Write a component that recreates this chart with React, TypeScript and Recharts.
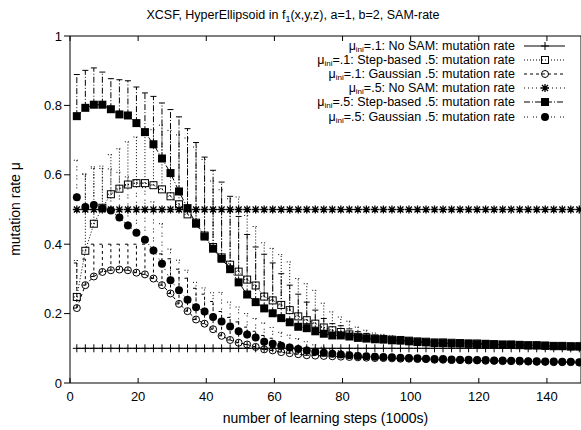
import { LineChart, Line, XAxis, YAxis, ErrorBar, Legend } from 'recharts';

const font = '"Liberation Sans", Arial, Helvetica, sans-serif';

// learning steps (1000s)
const steps = [
  2, 4.5, 7, 9.5, 12, 14.5, 17, 19.5, 22, 24.5, 27, 29.5, 32, 34.5, 37, 39.5, 42, 44.5, 47, 49.5,
  52, 54.5, 57, 59.5, 62, 64.5, 67, 69.5, 72, 74.5, 77, 79.5, 82, 84.5, 87, 89.5, 92, 94.5, 97, 99.5,
  102, 104.5, 107, 109.5, 112, 114.5, 117, 119.5, 122, 124.5, 127, 129.5, 132, 134.5, 137, 139.5, 142, 144.5, 147, 149.5,
];

// mu_ini = .1
const noSam1 = [
  0.1, 0.1, 0.1, 0.1, 0.1, 0.1, 0.1, 0.1, 0.1, 0.1, 0.1, 0.1, 0.1, 0.1, 0.1, 0.1, 0.1, 0.1, 0.1, 0.1,
  0.1, 0.1, 0.1, 0.1, 0.1, 0.1, 0.1, 0.1, 0.1, 0.1, 0.1, 0.1, 0.1, 0.1, 0.1, 0.1, 0.1, 0.1, 0.1, 0.1,
  0.1, 0.1, 0.1, 0.1, 0.1, 0.1, 0.1, 0.1, 0.1, 0.1, 0.1, 0.1, 0.1, 0.1, 0.1, 0.1, 0.1, 0.1, 0.1, 0.1,
];
const step1 = [
  0.248, 0.381, 0.459, 0.505, 0.544, 0.56, 0.572, 0.576, 0.576, 0.57, 0.558, 0.538, 0.515, 0.486, 0.462, 0.425, 0.392, 0.362, 0.341, 0.321,
  0.298, 0.281, 0.249, 0.238, 0.225, 0.21, 0.192, 0.181, 0.171, 0.16, 0.152, 0.147, 0.14, 0.133, 0.131, 0.128, 0.127, 0.125, 0.124, 0.122,
  0.12, 0.119, 0.117, 0.117, 0.116, 0.115, 0.114, 0.114, 0.113, 0.112, 0.111, 0.111, 0.11, 0.109, 0.109, 0.108, 0.107, 0.107, 0.106, 0.106,
];
const step1Err = [
  0.105, 0.22, 0.16, 0.12, 0.114, 0.115, 0.123, 0.133, 0.138, 0.16, 0.185, 0.19, 0.2, 0.22, 0.218, 0.219, 0.19, 0.195, 0.19, 0.215,
  0.185, 0.17, 0.155, 0.15, 0.145, 0.139, 0.109, 0.105, 0.096, 0.07, 0.053, 0.043, 0.038, 0.028, 0.021, 0.016, 0.013, 0.011, 0.01, 0.009,
  0.008, 0.008, 0.007, 0.007, 0.007, 0.006, 0.006, 0.006, 0.006, 0.006, 0.005, 0.005, 0.005, 0.005, 0.005, 0.005, 0.005, 0.005, 0.005, 0.005,
];
const gauss1 = [
  0.216, 0.282, 0.307, 0.32, 0.325, 0.327, 0.325, 0.318, 0.313, 0.301, 0.282, 0.258, 0.228, 0.207, 0.183, 0.171, 0.155, 0.136, 0.124, 0.116,
  0.111, 0.104, 0.097, 0.094, 0.089, 0.086, 0.083, 0.08, 0.079, 0.078, 0.077, 0.076, 0.075, 0.074, 0.073, 0.072, 0.072, 0.071, 0.07, 0.07,
  0.069, 0.069, 0.067, 0.067, 0.066, 0.066, 0.065, 0.065, 0.064, 0.064, 0.063, 0.063, 0.062, 0.062, 0.061, 0.061, 0.06, 0.06, 0.06, 0.059,
];
const gauss1Err = [
  0.13, 0.075, 0.093, 0.08, 0.075, 0.073, 0.075, 0.082, 0.087, 0.086, 0.09, 0.1, 0.1, 0.095, 0.09, 0.085, 0.08, 0.07, 0.065, 0.06,
  0.05, 0.045, 0.04, 0.035, 0.03, 0.025, 0.02, 0.017, 0.014, 0.012, 0.01, 0.009, 0.008, 0.008, 0.007, 0.007, 0.006, 0.006, 0.006, 0.005,
  0.005, 0.005, 0.005, 0.005, 0.005, 0.005, 0.005, 0.005, 0.005, 0.005, 0.005, 0.005, 0.005, 0.005, 0.005, 0.005, 0.005, 0.005, 0.005, 0.005,
];

// mu_ini = .5
const noSam5 = [
  0.5, 0.5, 0.5, 0.5, 0.5, 0.5, 0.5, 0.5, 0.5, 0.5, 0.5, 0.5, 0.5, 0.5, 0.5, 0.5, 0.5, 0.5, 0.5, 0.5,
  0.5, 0.5, 0.5, 0.5, 0.5, 0.5, 0.5, 0.5, 0.5, 0.5, 0.5, 0.5, 0.5, 0.5, 0.5, 0.5, 0.5, 0.5, 0.5, 0.5,
  0.5, 0.5, 0.5, 0.5, 0.5, 0.5, 0.5, 0.5, 0.5, 0.5, 0.5, 0.5, 0.5, 0.5, 0.5, 0.5, 0.5, 0.5, 0.5, 0.5,
];
const step5 = [
  0.769, 0.793, 0.802, 0.802, 0.789, 0.774, 0.771, 0.749, 0.723, 0.688, 0.647, 0.605, 0.552, 0.504, 0.459, 0.422, 0.387, 0.358, 0.328, 0.29,
  0.255, 0.233, 0.215, 0.201, 0.187, 0.175, 0.162, 0.158, 0.149, 0.142, 0.137, 0.137, 0.134, 0.13, 0.128, 0.126, 0.125, 0.123, 0.122, 0.12,
  0.118, 0.117, 0.115, 0.115, 0.114, 0.114, 0.113, 0.112, 0.112, 0.111, 0.11, 0.11, 0.109, 0.108, 0.108, 0.107, 0.106, 0.106, 0.105, 0.105,
];
const step5Err = [
  0.12, 0.108, 0.106, 0.094, 0.088, 0.1, 0.1, 0.104, 0.113, 0.138, 0.16, 0.183, 0.215, 0.229, 0.234, 0.229, 0.226, 0.221, 0.21, 0.19,
  0.173, 0.159, 0.156, 0.145, 0.128, 0.107, 0.094, 0.075, 0.061, 0.044, 0.034, 0.028, 0.022, 0.018, 0.015, 0.012, 0.01, 0.009, 0.008, 0.008,
  0.007, 0.007, 0.007, 0.006, 0.006, 0.006, 0.006, 0.006, 0.006, 0.006, 0.005, 0.005, 0.005, 0.005, 0.005, 0.005, 0.005, 0.005, 0.005, 0.005,
];
const gauss5 = [
  0.535, 0.507, 0.513, 0.503, 0.497, 0.477, 0.454, 0.433, 0.413, 0.382, 0.344, 0.296, 0.267, 0.24, 0.218, 0.206, 0.19, 0.177, 0.163, 0.149,
  0.14, 0.131, 0.119, 0.113, 0.107, 0.102, 0.098, 0.094, 0.09, 0.087, 0.084, 0.082, 0.08, 0.078, 0.077, 0.076, 0.075, 0.074, 0.073, 0.072,
  0.071, 0.07, 0.069, 0.069, 0.068, 0.067, 0.067, 0.066, 0.066, 0.065, 0.065, 0.064, 0.064, 0.063, 0.063, 0.062, 0.062, 0.061, 0.061, 0.06,
];
const gauss5Err = [
  0.107, 0.096, 0.11, 0.115, 0.12, 0.13, 0.14, 0.15, 0.15, 0.14, 0.115, 0.09, 0.087, 0.085, 0.072, 0.068, 0.07, 0.084, 0.07, 0.07,
  0.06, 0.055, 0.054, 0.047, 0.039, 0.036, 0.03, 0.025, 0.02, 0.016, 0.013, 0.011, 0.01, 0.009, 0.008, 0.008, 0.007, 0.007, 0.006, 0.006,
  0.006, 0.005, 0.005, 0.005, 0.005, 0.005, 0.005, 0.005, 0.005, 0.005, 0.005, 0.005, 0.005, 0.005, 0.005, 0.005, 0.005, 0.005, 0.005, 0.005,
];

const xTicks = [0, 20, 40, 60, 80, 100, 120, 140];
const yTicks = [0, 0.2, 0.4, 0.6, 0.8, 1];

const legendInit = ['.1', '.1', '.1', '.5', '.5', '.5'];
const legendKind = ['No SAM', 'Step-based .5', 'Gaussian .5', 'No SAM', 'Step-based .5', 'Gaussian .5'];
const legendMarker = ['plus', 'openSquare', 'openCircle', 'star', 'filledSquare', 'filledCircle'];
const legendDash = [undefined, '1 2', '3 3', '1 3', '6 2 1 2', '1 2 1 5'];

const rows = steps.map((x, i) => ({
  x,
  noSam1: noSam1[i],
  step1: step1[i],
  step1Err: [0, step1Err[i]],
  gauss1: gauss1[i],
  gauss1Err: [0, gauss1Err[i]],
  noSam5: noSam5[i],
  step5: step5[i],
  step5Err: [0, step5Err[i]],
  gauss5: gauss5[i],
  gauss5Err: [0, gauss5Err[i]],
}));

const markers: Record<string, (cx: number, cy: number) => JSX.Element> = {
  plus: (cx, cy) => (
    <path d={`M${cx - 4} ${cy}h8M${cx} ${cy - 4}v8`} stroke="#000" strokeWidth={1} fill="none" />
  ),
  openSquare: (cx, cy) => (
    <rect x={cx - 3.5} y={cy - 3.5} width={7} height={7} stroke="#000" strokeWidth={1} fill="none" />
  ),
  openCircle: (cx, cy) => <circle cx={cx} cy={cy} r={3.5} stroke="#000" strokeWidth={1} fill="none" />,
  star: (cx, cy) => (
    <path
      d={`M${cx - 4} ${cy}h8M${cx} ${cy - 4}v8M${cx - 3} ${cy - 3}l6 6M${cx - 3} ${cy + 3}l6 -6`}
      stroke="#000"
      strokeWidth={1.3}
      fill="none"
    />
  ),
  filledSquare: (cx, cy) => <rect x={cx - 4} y={cy - 4} width={8} height={8} fill="#000" />,
  filledCircle: (cx, cy) => <circle cx={cx} cy={cy} r={4} fill="#000" />,
};

const dotFor = (kind: string) => (props: any) => {
  const { cx, cy, index } = props;
  if (cx == null || cy == null) return <g key={`${kind}-${index}`} />;
  return <g key={`${kind}-${index}`}>{markers[kind](cx, cy)}</g>;
};

const leftTick = (p: any) => (
  <g>
    <line x1={p.x} x2={p.x - 6} y1={p.y} y2={p.y} stroke="#000" />
    <text x={p.x - 8} y={p.y + 4.5} textAnchor="end" fontSize={13} fontFamily={font} fill="#000">
      {p.payload.value === 0 || p.payload.value === 1 ? String(p.payload.value) : p.payload.value.toFixed(1)}
    </text>
  </g>
);
const rightTick = (p: any) => <line x1={p.x} x2={p.x - 5} y1={p.y} y2={p.y} stroke="#000" />;
const bottomTick = (p: any) => (
  <g>
    <line x1={p.x} x2={p.x} y1={p.y} y2={p.y - 5} stroke="#000" />
    <text x={p.x} y={p.y + 18} textAnchor="middle" fontSize={13} fontFamily={font} fill="#000">
      {p.payload.value}
    </text>
  </g>
);
const topTick = (p: any) => <line x1={p.x} x2={p.x} y1={p.y} y2={p.y + 5} stroke="#000" />;

const renderLegend = () => (
  <div style={{ fontFamily: font, color: '#000' }}>
    {legendKind.map((kind, i) => (
      <div
        key={i}
        style={{ display: 'flex', justifyContent: 'flex-end', alignItems: 'center', height: 14.1 }}
      >
        <span style={{ fontSize: 12.5, whiteSpace: 'nowrap', lineHeight: '12px' }}>
          μ<span style={{ fontSize: 8, lineHeight: '8px', position: 'relative', top: 2 }}>ini</span>={legendInit[i]}: {kind}: mutation rate
        </span>
        <svg width={41} height={14} style={{ marginLeft: 9, display: 'block' }}>
          <line x1={0} x2={41} y1={7} y2={7} stroke="#000" strokeDasharray={legendDash[i]} />
          {markers[legendMarker[i]](21, 7)}
        </svg>
      </div>
    ))}
  </div>
);

export default function App() {
  return (
    <div style={{ position: 'absolute', left: 0, top: 0, width: 582, height: 430, fontFamily: font }}>
      <div
        style={{
          position: 'absolute',
          left: 0,
          top: 8,
          width: 586,
          textAlign: 'center',
          fontSize: 12.5,
          lineHeight: '15px',
          whiteSpace: 'nowrap',
        }}
      >
        XCSF, HyperEllipsoid in f<span style={{ fontSize: 9, position: 'relative', top: 3 }}>1</span>(x,y,z), a=1, b=2, SAM-rate
      </div>
      <LineChart width={582} height={430} data={rows} margin={{ top: 35, right: 0, bottom: 0, left: 0 }}>
        <XAxis
          dataKey="x"
          type="number"
          domain={[0, 150]}
          ticks={xTicks}
          height={47}
          tickSize={0}
          tickMargin={0}
          tickLine={false}
          tick={bottomTick}
          axisLine={{ stroke: '#000' }}
          label={{ value: 'number of learning steps (1000s)', position: 'insideBottom', offset: 7, fontSize: 14, fill: '#000', fontFamily: font }}
        />
        <XAxis
          xAxisId="top"
          orientation="top"
          dataKey="x"
          type="number"
          domain={[0, 150]}
          ticks={xTicks}
          height={1}
          tickSize={0}
          tickMargin={0}
          tickLine={false}
          tick={topTick}
          axisLine={{ stroke: '#000' }}
        />
        <YAxis
          type="number"
          domain={[0, 1]}
          ticks={yTicks}
          width={70}
          tickSize={0}
          tickMargin={0}
          tickLine={false}
          tick={leftTick}
          axisLine={{ stroke: '#000' }}
          label={{
            content: () => (
              <text
                x={15}
                y={209}
                transform="rotate(-90 15 209)"
                textAnchor="middle"
                dominantBaseline="central"
                fontSize={14}
                fontFamily={font}
                fill="#000"
              >
                mutation rate μ
              </text>
            ),
          }}
        />
        <YAxis
          yAxisId="right"
          orientation="right"
          type="number"
          domain={[0, 1]}
          ticks={yTicks}
          width={1}
          tickSize={0}
          tickMargin={0}
          tickLine={false}
          tick={rightTick}
          axisLine={{ stroke: '#000' }}
        />
        <Legend
          layout="horizontal"
          verticalAlign="middle"
          align="center"
          content={renderLegend}
          wrapperStyle={{ left: 250, top: 39, width: 315 }}
        />
        <Line
          dataKey="noSam1"
          stroke="#000"
          strokeWidth={1}
          dot={dotFor('plus')}
          activeDot={false}
          isAnimationActive={false}
        />
        <Line
          dataKey="step1"
          stroke="#000"
          strokeWidth={1}
          strokeDasharray="1 2"
          dot={dotFor('openSquare')}
          activeDot={false}
          isAnimationActive={false}
        >
          <ErrorBar dataKey="step1Err" width={3} stroke="#000" strokeWidth={1} strokeDasharray="1 2" isAnimationActive={false} />
        </Line>
        <Line
          dataKey="gauss1"
          stroke="#000"
          strokeWidth={1}
          strokeDasharray="3 3"
          dot={dotFor('openCircle')}
          activeDot={false}
          isAnimationActive={false}
        >
          <ErrorBar dataKey="gauss1Err" width={3} stroke="#000" strokeWidth={1} strokeDasharray="3 3" isAnimationActive={false} />
        </Line>
        <Line
          dataKey="noSam5"
          stroke="#000"
          strokeWidth={1}
          strokeDasharray="1 3"
          dot={dotFor('star')}
          activeDot={false}
          isAnimationActive={false}
        />
        <Line
          dataKey="step5"
          stroke="#000"
          strokeWidth={1}
          strokeDasharray="6 2 1 2"
          dot={dotFor('filledSquare')}
          activeDot={false}
          isAnimationActive={false}
        >
          <ErrorBar dataKey="step5Err" width={3} stroke="#000" strokeWidth={1} strokeDasharray="6 2 1 2" isAnimationActive={false} />
        </Line>
        <Line
          dataKey="gauss5"
          stroke="#000"
          strokeWidth={1}
          strokeDasharray="1 2 1 5"
          dot={dotFor('filledCircle')}
          activeDot={false}
          isAnimationActive={false}
        >
          <ErrorBar dataKey="gauss5Err" width={3} stroke="#000" strokeWidth={1} strokeDasharray="1 2 1 5" isAnimationActive={false} />
        </Line>
      </LineChart>
    </div>
  );
}
